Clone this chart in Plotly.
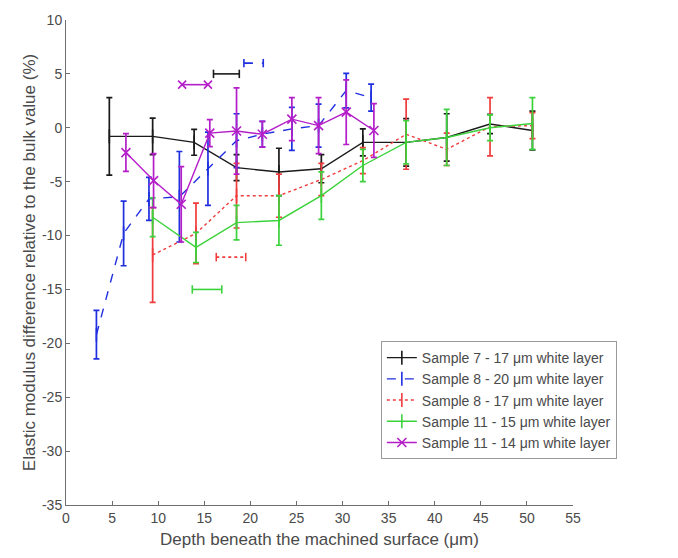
import plotly.graph_objects as go

# ---------------- data ----------------
s7_x   = [4.7, 9.4, 13.9, 18.5, 23.1, 27.7, 32.2, 36.9, 41.3, 46.0, 50.6]
s7_y   = [-0.8, -0.8, -1.35, -3.7, -4.1, -3.8, -1.35, -1.35, -0.9, 0.35, -0.25]
s7_err = [3.6, 1.7, 1.2, 1.2, 2.2, 1.3, 1.25, 2.2, 2.2, 0.9, 1.8]

s8a_x   = [3.3, 6.25, 9.0, 12.3, 15.4, 18.5, 21.3, 24.5, 27.4, 30.4, 33.1]
s8a_y   = [-19.2, -9.8, -6.6, -6.4, -3.8, -1.2, -0.6, -0.1, 0.2, 3.45, 2.8]
s8a_err = [2.25, 3.0, 2.0, 4.2, 3.4, 2.5, 1.2, 2.0, 2.0, 1.6, 1.25]

s8b_x   = [9.4, 14.1, 18.5, 23.1, 27.7, 32.2, 36.9, 41.3, 46.0, 50.6]
s8b_y   = [-11.8, -9.8, -6.3, -6.3, -4.8, -3.05, -0.6, -2.0, 0.1, 0.2]
s8b_err = [4.4, 2.8, 3.0, 2.0, 1.5, 1.2, 3.25, 1.5, 2.7, 1.2]

s11a_x   = [9.4, 14.1, 18.5, 23.1, 27.7, 32.2, 36.9, 41.3, 46.0, 50.6]
s11a_y   = [-8.3, -11.1, -8.8, -8.6, -6.3, -3.5, -1.35, -0.9, 0.0, 0.4]
s11a_err = [1.8, 1.4, 1.6, 2.3, 2.2, 1.5, 2.0, 2.6, 1.2, 2.4]

s11b_x   = [6.5, 9.5, 12.5, 15.6, 18.5, 21.3, 24.5, 27.4, 30.4, 33.4]
s11b_y   = [-2.3, -4.9, -7.1, -0.5, -0.3, -0.6, 0.8, 0.2, 1.45, -0.25]
s11b_err = [1.75, 2.5, 3.5, 1.25, 4.0, 1.2, 2.0, 2.6, 3.0, 2.5]

# white-layer thickness indicators (start, end depth; level)
ind_s7_x,   ind_s7_y   = [16.0, 18.8], [5, 5]
ind_s8a_x,  ind_s8a_y  = [19.3, 21.4], [6, 6]
ind_s8b_x,  ind_s8b_y  = [16.3, 19.5], [-12, -12]
ind_s11a_x, ind_s11a_y = [13.7, 16.9], [-15, -15]
ind_s11b_x, ind_s11b_y = [12.6, 15.4], [4, 4]

names = ["Sample 7 - 17 μm white layer",
         "Sample 8 - 20 μm white layer",
         "Sample 8 - 17 μm white layer",
         "Sample 11 - 15 μm white layer",
         "Sample 11 - 14 μm white layer"]

x_ticks = list(range(0, 56, 5))
y_ticks = list(range(-35, 11, 5))

# ---------------- figure ----------------
c_black = "#1a1a1a"
c_blue = "#1f2fe0"
c_red = "#f03c3c"
c_green = "#3cd23c"
c_purple = "#b41ec8"

fig = go.Figure()

series = [
    (s7_x, s7_y, s7_err, c_black, "solid", names[0], "line-ns"),
    (s8a_x, s8a_y, s8a_err, c_blue, "dash", names[1], "line-ns"),
    (s8b_x, s8b_y, s8b_err, c_red, "dot", names[2], "line-ns"),
    (s11a_x, s11a_y, s11a_err, c_green, "solid", names[3], "line-ns"),
    (s11b_x, s11b_y, s11b_err, c_purple, "solid", names[4], "x-thin"),
]

for xs, ys, es, col, dash, nm, sym in series:
    fig.add_trace(go.Scatter(
        x=xs, y=ys, name=nm,
        mode="lines+markers",
        line=dict(color=col, width=1.4, dash=dash),
        marker=dict(symbol=sym, size=9 if sym == "x-thin" else 10,
                    color=col, line=dict(color=col, width=1.6)),
        error_y=dict(type="data", array=es, visible=True, color=col,
                     thickness=1.7, width=3),
    ))

indicators = [
    (ind_s7_x, ind_s7_y, c_black, "solid", "line-ns"),
    (ind_s8a_x, ind_s8a_y, c_blue, "dash", "line-ns"),
    (ind_s8b_x, ind_s8b_y, c_red, "dot", "line-ns"),
    (ind_s11a_x, ind_s11a_y, c_green, "solid", "line-ns"),
    (ind_s11b_x, ind_s11b_y, c_purple, "solid", "x-thin"),
]
for xs, ys, col, dash, sym in indicators:
    fig.add_trace(go.Scatter(
        x=xs, y=ys, mode="lines+markers", showlegend=False,
        line=dict(color=col, width=1.6, dash=dash),
        marker=dict(symbol=sym, size=8 if sym == "x-thin" else 6,
                    line=dict(color=col, width=1.6)),
    ))

axis_col = "#6e6e6e"
font_col = "#4a4a4a"

fig.update_layout(
    width=678, height=558,
    margin=dict(l=66, r=105, t=17, b=53),
    paper_bgcolor="white", plot_bgcolor="white",
    font=dict(family="Liberation Sans, Arial, sans-serif", size=14, color=font_col),
    showlegend=True,
    legend=dict(
        x=0.621, y=0.338, xanchor="left", yanchor="top",
        bgcolor="white", bordercolor="#9a9a9a", borderwidth=1,
        font=dict(size=14, color=font_col),
        itemwidth=30, tracegroupgap=0,
    ),
)
fig.update_xaxes(
    range=[0, 55], tickvals=x_ticks, ticktext=[str(v) for v in x_ticks],
    showgrid=False, zeroline=False, showline=True, linecolor=axis_col, linewidth=1,
    ticks="inside", ticklen=4, tickcolor=axis_col,
    tickfont=dict(size=14, color=font_col),
    title=dict(text="Depth beneath the machined surface (μm)", standoff=8,
               font=dict(size=17, color=font_col)),
)
fig.update_yaxes(
    range=[-35, 10], tickvals=y_ticks, ticktext=[str(v) for v in y_ticks],
    showgrid=False, zeroline=False, showline=True, linecolor=axis_col, linewidth=1,
    ticks="inside", ticklen=4, tickcolor=axis_col,
    tickfont=dict(size=14, color=font_col),
    title=dict(text="Elastic modulus difference relative to the bulk value (%)", standoff=2,
               font=dict(size=17, color=font_col)),
)

fig.write_html("out.html")
